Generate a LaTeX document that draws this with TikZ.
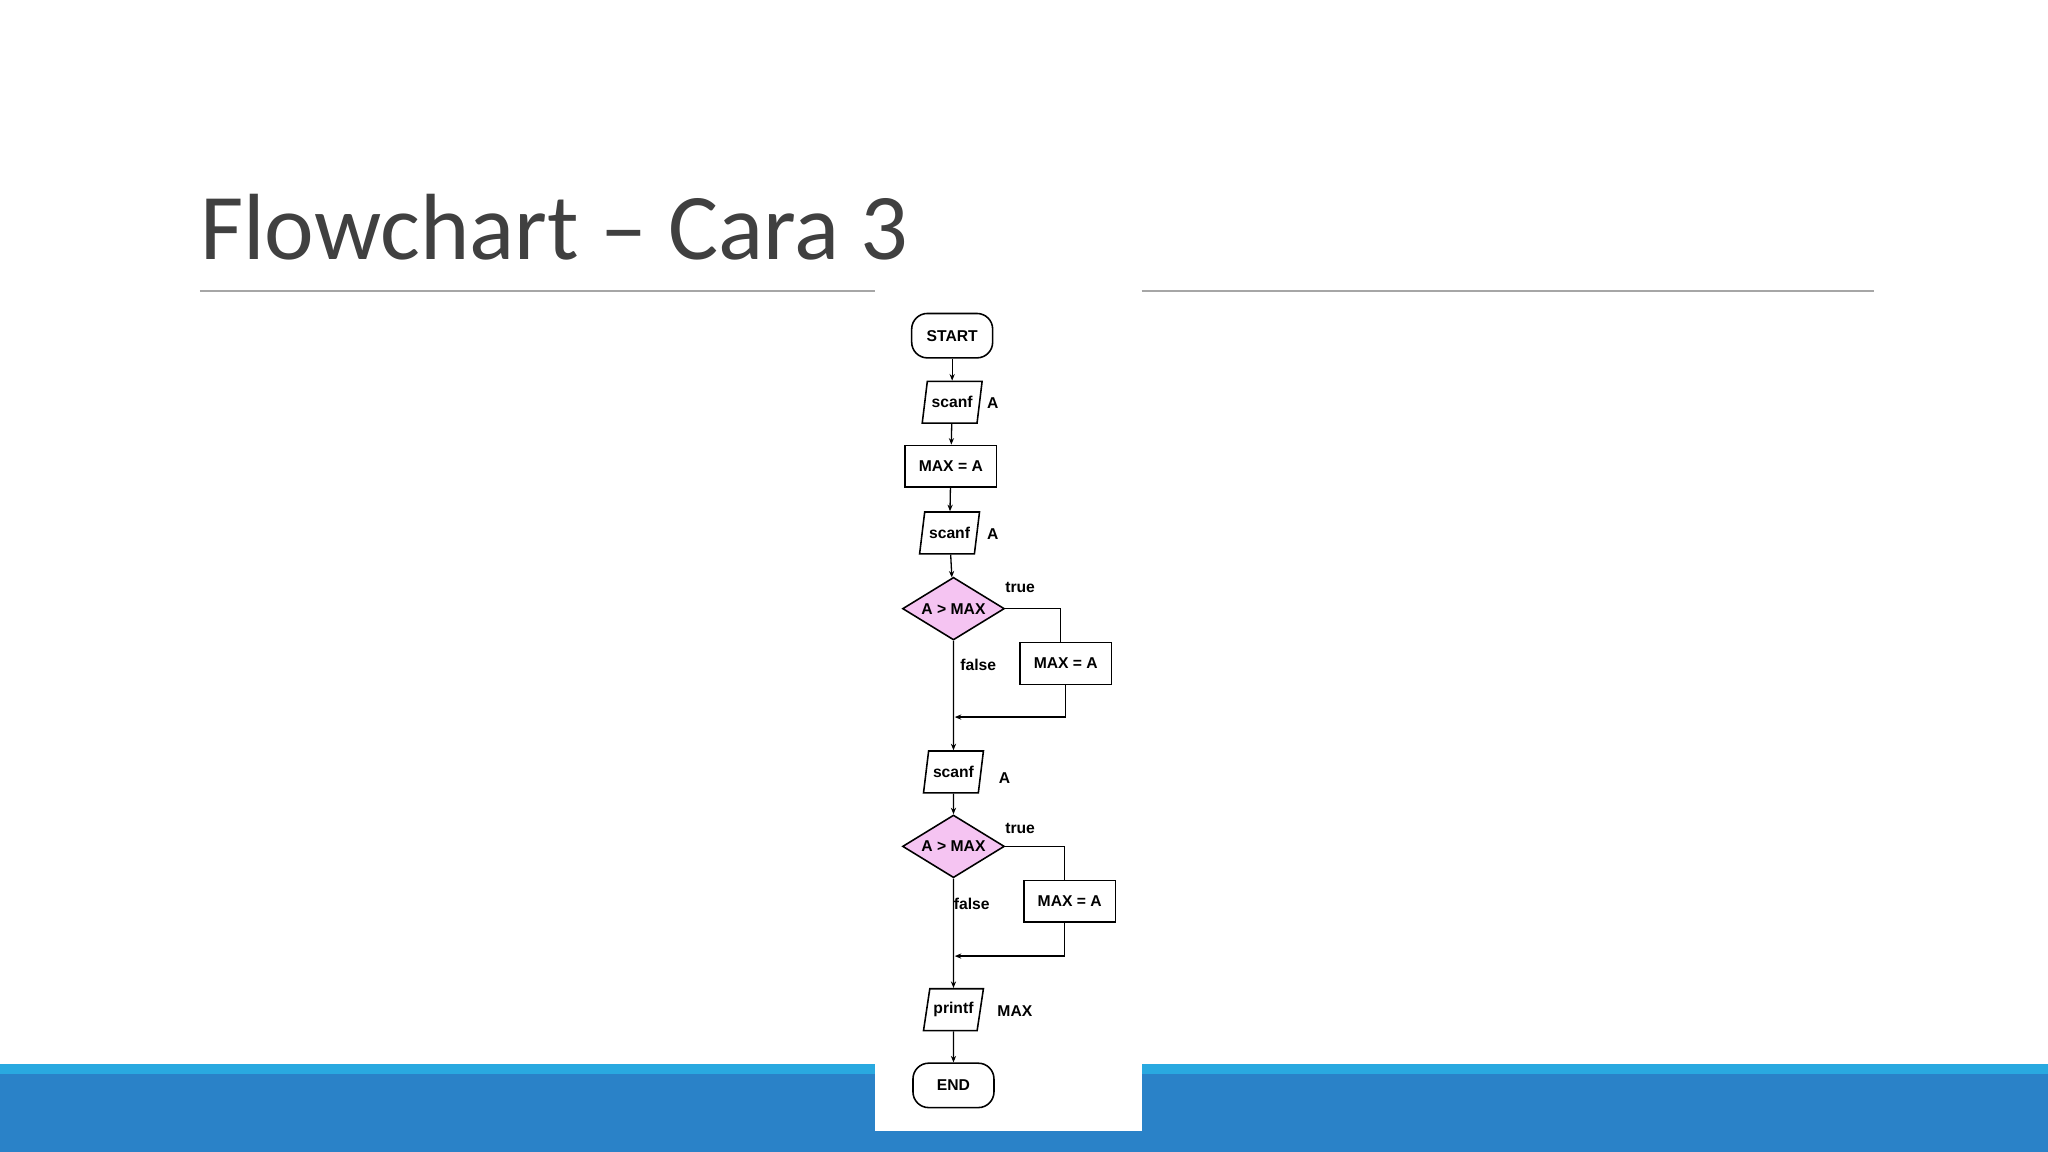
\documentclass[tikz,border=0pt]{standalone}
\usepackage{fontspec}
\setmainfont{Liberation Sans}
\newfontfamily\titlefont{Carlito}
\usetikzlibrary{shapes.geometric,arrows.meta}
\definecolor{titlec}{HTML}{404040}
\definecolor{lblue}{HTML}{29A9E0}
\definecolor{dblue}{HTML}{2A82C8}
\definecolor{pinkf}{HTML}{F5C4F2}
\tikzset{
  fc/.style={draw=black,line width=1.2pt,font=\fontsize{12}{14}\selectfont\bfseries,inner sep=0pt},
  term/.style={fc,rounded corners=12pt,minimum width=62pt,minimum height=34pt},
  io/.style={fc,trapezium,trapezium left angle=70,trapezium right angle=110,minimum width=46pt,minimum height=32pt,trapezium stretches=true},
  proc/.style={fc,rectangle,minimum width=70pt,minimum height=32pt},
  dec/.style={fc,diamond,aspect=1.6,fill=pinkf,minimum width=78pt,minimum height=48pt},
  lbl/.style={font=\fontsize{12}{14}\selectfont\bfseries,inner sep=0pt},
  ar/.style={line width=1pt,-{Stealth[length=5pt,width=4pt]}},
  ln/.style={line width=1pt}
}
\begin{document}
\begin{tikzpicture}[x=1pt,y=-1pt]
\useasboundingbox (0,0) rectangle (1568,882);
\fill[white] (0,0) rectangle (1568,882);
\fill[lblue] (0,815) rectangle (1568,822);
\fill[dblue] (0,822) rectangle (1568,882);
\draw[gray!70,line width=1.2pt] (153,223) -- (670,223) (874,223) -- (1435,223);
\fill[white] (670,226) rectangle (874,866);
\node[anchor=base west,inner sep=0pt,text=titlec,font=\titlefont\fontsize{72}{80}\selectfont] (title) at (153,199) {Flowchart – Cara 3};
\node[term] (start) at (729,257) {START};
\node[io] (s1) at (729,308) {scanf};
\node[lbl] (a1) at (760,309) {A};
\node[proc] (m0) at (728,357) {MAX = A};
\node[io] (s2) at (727,408) {scanf};
\node[lbl] (a2) at (760,409) {A};
\node[dec] (d1) at (730,466) {A > MAX};
\node[lbl] (t1) at (781,450) {true};
\node[proc] (b1) at (816,508) {MAX = A};
\node[lbl] (f1) at (749,509) {false};
\coordinate (j1) at (731,549);
\node[io] (s3) at (730,591) {scanf};
\node[lbl] (a3) at (769,596) {A};
\node[dec] (d2) at (730,648) {A > MAX};
\node[lbl] (t2) at (781,634) {true};
\node[proc] (b2) at (819,690) {MAX = A};
\node[lbl] (f2) at (744,692) {false};
\coordinate (j2) at (731,732);
\node[io] (pr) at (730,773) {printf};
\node[lbl] (mx) at (777,774) {MAX};
\node[term] (end) at (730,831) {END};
\draw[ar] (start) -- (s1);
\draw[ar] (s1) -- (m0);
\draw[ar] (m0) -- (s2);
\draw[ar] (s2) -- (d1);
\draw[ln] (d1.east) -| (b1.north -| 812,0);
\draw[ar] (b1.south) |- (j1);
\draw[ar] (d1.south) -- (s3);
\draw[ar] (s3) -- (d2);
\draw[ln] (d2.east) -| (b2.north -| 815,0);
\draw[ar] (b2.south -| 815,0) |- (j2);
\draw[ar] (d2.south) -- (pr);
\draw[ar] (pr) -- (end);
\end{tikzpicture}
\end{document}
